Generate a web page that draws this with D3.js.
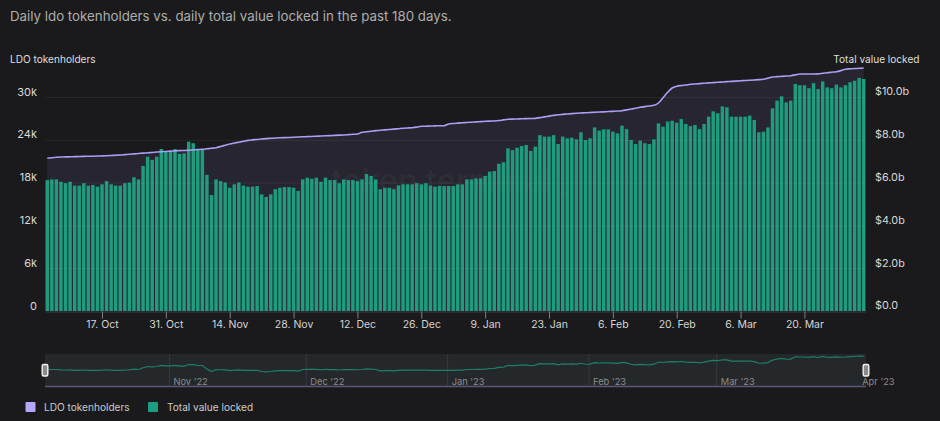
<!DOCTYPE html>
<html>
<head>
<meta charset="utf-8">
<title>LDO tokenholders vs TVL</title>
<script src="https://cdn.jsdelivr.net/npm/d3@7"></script>
<style>
  html, body { margin: 0; padding: 0; background: #1a1a1c; }
  svg { display: block; }
  text { font-family: Inter, "Noto Sans", sans-serif; }
</style>
</head>
<body>
<svg id="chart" width="940" height="421"></svg>
<script>
var firstDay = "2022-10-05";

// total value locked, $b, one per day (bars)
var tvl = [
  6.12, 6.15, 6.15, 6.04, 5.97, 6.04, 5.86, 5.86, 5.97, 5.86, 5.89, 5.81, 5.92, 6.07, 5.92,
  5.86, 5.86, 5.97, 6.00, 6.25, 6.15, 6.78, 7.21, 7.06, 7.21, 7.57, 7.45, 7.45, 7.57, 7.34,
  7.37, 7.91, 7.84, 7.55, 7.55, 6.36, 5.42, 6.15, 6.07, 6.00, 5.76, 5.92, 6.00, 5.86, 5.81,
  5.81, 5.84, 5.45, 5.33, 5.45, 5.69, 5.76, 5.79, 5.79, 5.76, 5.61, 6.15, 6.23, 6.18, 6.23,
  6.04, 6.23, 6.12, 6.12, 5.97, 6.15, 6.12, 6.12, 6.07, 6.15, 6.40, 6.31, 6.15, 5.69, 5.76,
  5.76, 5.69, 5.87, 5.92, 5.92, 5.92, 5.97, 5.92, 5.97, 5.87, 5.81, 5.84, 5.84, 5.84, 5.84,
  5.92, 5.92, 6.15, 6.15, 6.20, 6.20, 6.31, 6.51, 6.54, 6.88, 6.95, 7.60, 7.52, 7.63, 7.71,
  7.76, 7.48, 7.68, 8.22, 8.15, 8.15, 8.22, 7.80, 8.15, 8.07, 8.10, 8.02, 8.35, 7.99, 8.07,
  8.58, 8.43, 8.49, 8.49, 8.38, 8.30, 8.66, 8.50, 7.99, 7.80, 7.96, 7.84, 7.80, 8.02, 8.77,
  8.61, 8.85, 8.89, 8.80, 8.97, 8.74, 8.64, 8.69, 8.50, 8.74, 9.08, 9.33, 9.24, 9.56, 9.52,
  9.08, 9.08, 9.08, 9.08, 9.13, 8.93, 8.35, 8.38, 8.58, 9.47, 9.83, 10.03, 9.75, 9.83, 10.61,
  10.55, 10.55, 10.41, 10.65, 10.37, 10.73, 10.45, 10.41, 10.58, 10.45, 10.55, 10.69, 10.76, 10.89, 10.84
];

// LDO tokenholders, one per day (line)
var holders = [
  21410, 21480, 21560, 21590, 21600, 21620, 21640, 21650, 21670, 21690, 21700, 21720, 21740, 21770, 21800,
  21840, 21870, 21920, 21970, 22030, 22080, 22130, 22180, 22230, 22280, 22330, 22370, 22410, 22450, 22480,
  22510, 22540, 22580, 22630, 22670, 22740, 22810, 22890, 23060, 23240, 23410, 23540, 23660, 23790, 23920,
  23990, 24050, 24110, 24170, 24210, 24250, 24280, 24310, 24330, 24360, 24390, 24420, 24450, 24470, 24500,
  24530, 24560, 24590, 24620, 24650, 24680, 24720, 24770, 24810, 25050, 25120, 25200, 25280, 25330, 25390,
  25440, 25490, 25550, 25610, 25660, 25700, 25780, 25890, 25910, 25930, 25950, 25970, 25980, 26220, 26290,
  26340, 26390, 26430, 26470, 26510, 26550, 26590, 26620, 26640, 26700, 26790, 26870, 26900, 26920, 26950,
  26970, 26990, 27010, 27110, 27210, 27320, 27420, 27520, 27570, 27620, 27670, 27720, 27760, 27790, 27820,
  27860, 27890, 27920, 27960, 27990, 28030, 28080, 28190, 28310, 28430, 28560, 28650, 28740, 28830, 29160,
  29900, 30660, 31260, 31500, 31610, 31680, 31780, 31830, 31880, 31930, 31980, 32020, 32060, 32110, 32150,
  32190, 32230, 32270, 32310, 32350, 32390, 32430, 32500, 32650, 32800, 32850, 32890, 32940, 32990, 33100,
  33220, 33220, 33230, 33230, 33240, 33320, 33410, 33480, 33550, 33700, 33890, 33950, 33990, 34020, 34070
];

var leftTicks = [0, 6000, 12000, 18000, 24000, 30000];
var rightTicks = [0, 2, 4, 6, 8, 10];
var xTickDates = ["2022-10-17", "2022-10-31", "2022-11-14", "2022-11-28", "2022-12-12", "2022-12-26",
  "2023-01-09", "2023-01-23", "2023-02-06", "2023-02-20", "2023-03-06", "2023-03-20"];
var navMonths = ["2022-11-01", "2022-12-01", "2023-01-01", "2023-02-01", "2023-03-01", "2023-04-01"];
var navLabels = ["Nov '22", "Dec '22", "Jan '23", "Feb '23", "Mar '23", "Apr '23"];
var legendItems = ["LDO tokenholders", "Total value locked"];
var legendColors = ["#b3a8ff", "#1b9e7f"];

var parseDay = d3.utcParse("%Y-%m-%d");
var start = parseDay(firstDay);
var days = tvl.map(function (d, i) { return d3.utcDay.offset(start, i); });

var svg = d3.select("#chart");
var plotLeft = 45, plotRight = 866, plotTop = 97, plotBottom = 311;
var halfDay = 12 * 3600 * 1000;

var x = d3.scaleUtc()
  .domain([new Date(+days[0] - halfDay), new Date(+days[days.length - 1] + halfDay)])
  .range([plotLeft, plotRight]);
var yLeft = d3.scaleLinear().domain([0, 30000]).range([plotBottom, plotTop]);
var yRight = d3.scaleLinear().domain([0, 10]).range([plotBottom, plotTop]);
var step = x(days[1]) - x(days[0]);
var barW = step * 0.76;

// title
svg.append("text").attr("x", 10).attr("y", 21)
  .attr("font-size", 13.3).attr("fill", "#adadad")
  .text("Daily ldo tokenholders vs. daily total value locked in the past 180 days.");

// watermark sits behind everything
svg.append("text").attr("x", 331).attr("y", 192)
  .attr("font-size", 32).attr("font-weight", 600).attr("fill", "#ffffff").attr("fill-opacity", 0.035)
  .text("token terminal_");

// area below the holders line
var area = d3.area()
  .x(function (d, i) { return x(days[i]); })
  .y0(plotBottom)
  .y1(function (d) { return yLeft(d); });
svg.append("path").datum(holders).attr("d", area).attr("fill", "#b3a8ff").attr("fill-opacity", 0.09);

// bars
svg.append("g").selectAll("rect").data(tvl).enter().append("rect")
  .attr("x", function (d, i) { return x(days[i]) - barW / 2; })
  .attr("y", function (d) { return yRight(d); })
  .attr("width", barW)
  .attr("height", function (d) { return plotBottom - yRight(d); })
  .attr("fill", "#1e9c7d");

// grid goes over the bars, very faint
svg.append("g").selectAll("line").data(leftTicks.slice(1)).enter().append("line")
  .attr("x1", plotLeft).attr("x2", plotRight)
  .attr("y1", function (d) { return yLeft(d) + 0.5; })
  .attr("y2", function (d) { return yLeft(d) + 0.5; })
  .attr("stroke", "#ffffff").attr("stroke-opacity", 0.06);

// holders line
var line = d3.line()
  .x(function (d, i) { return x(days[i]); })
  .y(function (d) { return yLeft(d); })
  .curve(d3.curveMonotoneX);
svg.append("path").datum(holders).attr("d", line)
  .attr("fill", "none").attr("stroke", "#ab9ff5").attr("stroke-width", 1.6);

// x axis
var xAxis = d3.axisBottom(x)
  .tickValues(xTickDates.map(parseDay))
  .tickFormat(d3.utcFormat("%-d. %b"))
  .tickSizeInner(7)
  .tickSizeOuter(0)
  .tickPadding(2);
var gx = svg.append("g").attr("transform", "translate(0," + (plotBottom + 0.5) + ")").call(xAxis);
gx.select(".domain").attr("stroke", "#3a3f47");
gx.selectAll(".tick line").attr("stroke", "#7b7d8c");
gx.selectAll("text").attr("font-size", 10.5).attr("fill", "#d4d4d4").attr("font-family", null);

// left axis labels sit above their grid lines
var yAxisL = d3.axisLeft(yLeft)
  .tickValues(leftTicks)
  .tickFormat(function (d) { return d === 0 ? "0" : d / 1000 + "k"; })
  .tickSize(0)
  .tickPadding(8);
var gl = svg.append("g").attr("transform", "translate(" + plotLeft + ",-5.5)").call(yAxisL);
gl.select(".domain").remove();
gl.selectAll("text").attr("font-size", 11).attr("fill", "#d8d8d8").attr("font-family", null);

var yAxisR = d3.axisRight(yRight)
  .tickValues(rightTicks)
  .tickFormat(function (d) { return d === 0 ? "$0.0" : "$" + d.toFixed(1) + "b"; })
  .tickSize(0)
  .tickPadding(9);
var gr = svg.append("g").attr("transform", "translate(" + plotRight + ",-5.5)").call(yAxisR);
gr.select(".domain").remove();
gr.selectAll("text").attr("font-size", 10.8).attr("fill", "#d8d8d8").attr("font-family", null);

// axis titles
svg.append("text").attr("x", 10).attr("y", 63)
  .attr("font-size", 10.1).attr("fill", "#dedede").text(legendItems[0]);
svg.append("text").attr("x", 919.5).attr("y", 63).attr("text-anchor", "end")
  .attr("font-size", 10.1).attr("fill", "#dedede").text(legendItems[1]);

// navigator
var navTop = 354, navBottom = 387;
svg.append("rect").attr("x", plotLeft).attr("y", navTop)
  .attr("width", plotRight - plotLeft).attr("height", navBottom - navTop).attr("fill", "#25282a");
svg.append("g").selectAll("line").data(navMonths.slice(0, 5)).enter().append("line")
  .attr("x1", function (d) { return x(parseDay(d)) - 1; })
  .attr("x2", function (d) { return x(parseDay(d)) - 1; })
  .attr("y1", navTop).attr("y2", navBottom)
  .attr("stroke", "#37393c");
svg.append("g").selectAll("text").data(navLabels).enter().append("text")
  .attr("x", function (d, i) { return x(parseDay(navMonths[i])) + 3; })
  .attr("y", 384.5)
  .attr("font-size", 9.3).attr("fill", "#8b8b8b")
  .text(function (d) { return d; });

var yNav = d3.scaleLinear().domain([0, 11.6]).range([navBottom, navTop]);
var navLine = d3.line()
  .x(function (d, i) { return x(days[i]); })
  .y(function (d) { return yNav(d); });
svg.append("path").datum(tvl).attr("d", navLine)
  .attr("fill", "none").attr("stroke", "#1d7f68").attr("stroke-width", 1.2);
svg.append("line").attr("x1", plotLeft).attr("x2", plotRight)
  .attr("y1", navBottom - 0.5).attr("y2", navBottom - 0.5)
  .attr("stroke", "#5b5675").attr("stroke-width", 1.5);

// navigator handles
svg.append("g").selectAll("rect").data([plotLeft, plotRight]).enter().append("rect")
  .attr("x", function (d) { return d - 2.8; })
  .attr("y", 364.5)
  .attr("width", 5.6).attr("height", 11.5).attr("rx", 1.5)
  .attr("fill", "#8a8a8a").attr("stroke", "#f2f2f2").attr("stroke-width", 1.4);

// legend
var legendX = [25.5, 148], legendTextX = [44, 167];
var lg = svg.append("g").selectAll("g").data(legendItems).enter().append("g");
lg.append("rect")
  .attr("x", function (d, i) { return legendX[i]; })
  .attr("y", 402).attr("width", 10).attr("height", 10).attr("rx", 1)
  .attr("fill", function (d, i) { return legendColors[i]; });
lg.append("text")
  .attr("x", function (d, i) { return legendTextX[i]; })
  .attr("y", 411)
  .attr("font-size", 10.1).attr("fill", "#c9c9c9")
  .text(function (d) { return d; });
</script>
</body>
</html>
